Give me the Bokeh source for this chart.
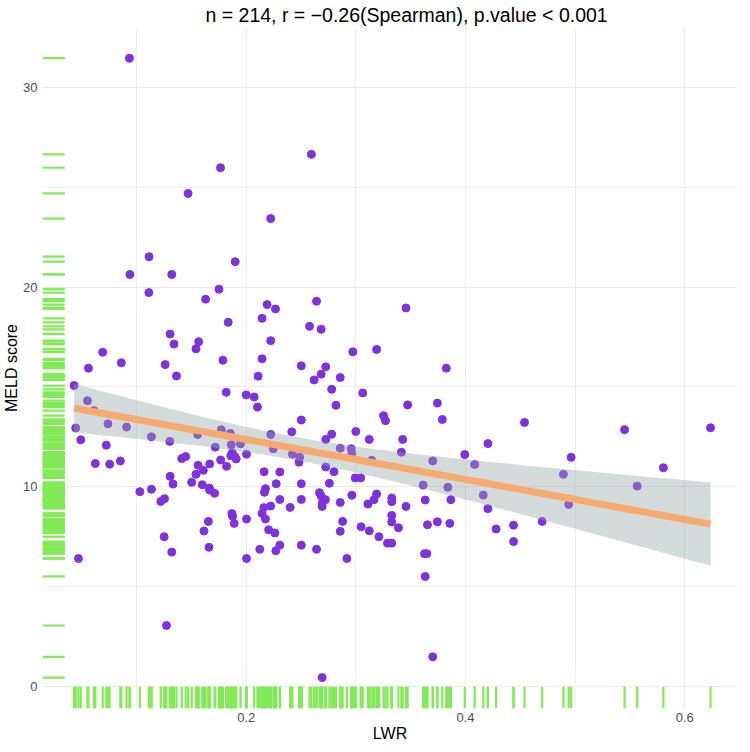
import numpy as np
from bokeh.plotting import figure
from bokeh.models import FixedTicker, Range1d, ColumnDataSource
from bokeh.embed import file_html
from bokeh.resources import INLINE

# ---- data (LWR, MELD score) ----
lwr = [
    0.0935, 0.2595, 0.1766, 0.1470, 0.2224, 0.1114, 0.1900,
    0.0939, 0.1321, 0.1112, 0.1752, 0.1630, 0.2191, 0.2267, 0.2145, 0.1836, 0.1306,
    0.1342, 0.1567, 0.1542, 0.2224, 0.0691, 0.0861, 0.0561, 0.1261, 0.1364, 0.1788,
    0.2145, 0.2109, 0.0430, 0.1818, 0.2000, 0.2073, 0.2103, 0.0552, 0.0612, 0.0445,
    0.0739, 0.0909, 0.0491, 0.0724, 0.1136, 0.1303, 0.0624, 0.0755, 0.0852, 0.1306,
    0.1412, 0.1448, 0.1561, 0.1609, 0.1667, 0.1542, 0.1767, 0.1821, 0.1718, 0.1773,
    0.1855, 0.1864, 0.1948, 0.1873, 0.1897, 0.1909, 0.1860, 0.2003, 0.1558, 0.2224,
    0.2248, 0.2164,
    0.2642, 0.2578, 0.2684, 0.3458, 0.2973, 0.3190, 0.3825, 0.2503, 0.2726, 0.2684,
    0.2620, 0.2858, 0.2780, 0.3063, 0.2819, 0.3473, 0.3744, 0.3789, 0.3253, 0.3271,
    0.2503, 0.2416, 0.2780, 0.2726, 0.3000, 0.3123, 0.3428, 0.3416, 0.2858, 0.2958,
    0.2964, 0.4205, 0.3994, 0.3702, 0.4084, 0.2422, 0.2488, 0.2482, 0.2726, 0.2801,
    0.2307, 0.3145, 0.2994, 0.3045,
    0.1333, 0.1503, 0.1030, 0.1136, 0.1221, 0.1255, 0.1600, 0.1664, 0.1667, 0.1712,
    0.2176, 0.2167, 0.2161, 0.2145, 0.2176, 0.1870, 0.1876, 0.1891, 0.2003, 0.1655,
    0.1615, 0.1252, 0.1321, 0.1661, 0.0470, 0.2003, 0.2124, 0.1273,
    0.2274, 0.2503, 0.2759, 0.2223, 0.2307, 0.2503, 0.2401, 0.2669, 0.2684, 0.2723,
    0.2693, 0.2693, 0.2858, 0.2964, 0.3190, 0.3166, 0.3111, 0.3328, 0.3328, 0.3458,
    0.3614, 0.3840, 0.3633, 0.3867, 0.4163, 0.4205, 0.4280, 0.2880, 0.2858, 0.3048,
    0.3123, 0.3211, 0.3289, 0.3328, 0.3328, 0.3328, 0.3389, 0.3654, 0.3744, 0.3858,
    0.3627, 0.3648, 0.3633, 0.3702, 0.2693, 0.2205, 0.2262, 0.2307, 0.2271, 0.2503,
    0.2642, 0.2919,
    0.4539, 0.5452, 0.6236, 0.4964, 0.4894, 0.5806, 0.5567, 0.4942, 0.4700, 0.4439,
    0.4439,
]
meld = [
    31.48, 26.66, 25.99, 24.70, 23.44, 21.53, 21.28,
    20.64, 20.64, 19.73, 19.90, 19.40, 19.13, 18.91, 18.44, 18.24, 17.65,
    17.15, 17.27, 16.91, 17.32, 16.74, 16.21, 15.94, 16.12, 15.55, 16.34,
    16.41, 15.54, 15.07, 14.73, 14.60, 14.50, 13.99, 14.31, 13.81, 12.94,
    13.15, 12.99, 12.35, 12.08, 12.50, 12.27, 11.16, 11.13, 11.29, 10.52,
    11.41, 11.51, 11.07, 10.82, 11.14, 10.62, 11.34, 11.02, 11.98, 12.85,
    12.67, 12.10, 12.15, 11.69, 11.51, 11.39, 11.55, 11.63, 12.62, 12.62,
    11.90, 10.75,
    19.30, 18.04, 17.89, 18.96, 16.76, 16.88, 15.94, 16.06, 16.01, 15.64,
    15.35, 15.47, 14.88, 14.70, 14.08, 14.10, 14.19, 13.37, 13.56, 13.31,
    13.34, 12.75, 12.63, 12.37, 12.77, 12.37, 12.37, 11.73, 11.93, 11.90,
    11.66, 12.16, 11.61, 11.29, 11.11, 11.63, 11.48, 11.23, 10.99, 10.75,
    10.74, 11.32, 10.44, 10.44,
    10.13, 10.22, 9.75, 9.87, 9.26, 9.40, 10.10, 9.93, 9.83, 9.67,
    9.90, 9.72, 8.95, 8.66, 8.38, 8.65, 8.52, 8.16, 8.38, 8.26,
    7.78, 7.49, 6.72, 6.96, 6.40, 6.40, 6.86, 3.04,
    10.15, 10.15, 10.17, 9.03, 9.36, 9.36, 8.96, 9.70, 9.53, 9.35,
    9.01, 9.16, 9.21, 9.57, 9.63, 9.35, 9.13, 9.43, 9.25, 9.01,
    10.08, 9.97, 9.33, 9.35, 9.58, 8.90, 7.88, 8.26, 7.76, 7.99,
    7.79, 7.49, 7.17, 7.17, 8.56, 8.23, 7.94, 8.09, 8.24, 8.16,
    6.64, 6.64, 5.50, 1.47, 0.43, 7.84, 7.68, 7.07, 6.79, 7.07,
    6.86, 6.40,
    13.22, 12.86, 12.95, 11.47, 10.62, 10.95, 10.03, 9.11, 8.26, 8.07,
    7.25,
]
x_ticks = [0.2, 0.4, 0.6]
x_minor = [0.1, 0.3, 0.5]
y_ticks = [0, 10, 20, 30]
y_minor = [5, 15, 25]
title_text = "n = 214, r = \u22120.26(Spearman), p.value < 0.001"
x_title = "LWR"
y_title = "MELD score"

x = np.array(lwr)
y = np.array(meld)

# linear fit with 95% confidence band (as geom_smooth(method = "lm"))
n = len(x)
b1, b0 = np.polyfit(x, y, 1)
resid = y - (b0 + b1 * x)
s = np.sqrt(np.sum(resid ** 2) / (n - 2))
xbar = x.mean()
sxx = np.sum((x - xbar) ** 2)
xs = np.linspace(x.min(), x.max(), 80)
fit = b0 + b1 * xs
se = s * np.sqrt(1.0 / n + (xs - xbar) ** 2 / sxx)
tq = 1.971
lo = fit - tq * se
hi = fit + tq * se

x0, x1 = 0.0142, 0.6482
y0, y1 = -1.12, 33.02

FONT = "Liberation Sans"

p = figure(width=738, height=744, output_backend="svg", toolbar_location=None,
           x_range=Range1d(x0, x1), y_range=Range1d(y0, y1),
           min_border_left=0, min_border_right=1, min_border_top=0, min_border_bottom=0)
p.outline_line_color = None
p.background_fill_color = "white"
p.border_fill_color = "white"

p.title.text = title_text
p.title.text_font = FONT
p.title.text_font_size = "19.5px"
p.title.text_font_style = "normal"
p.title.text_color = "#000000"
p.title.align = "left"
p.title.offset = 163
p.title.standoff = 3

p.xaxis.ticker = FixedTicker(ticks=x_ticks, minor_ticks=x_minor)
p.yaxis.ticker = FixedTicker(ticks=y_ticks, minor_ticks=y_minor)
for ax in (p.xaxis[0], p.yaxis[0]):
    ax.axis_line_color = None
    ax.major_tick_line_color = None
    ax.minor_tick_line_color = None
    ax.major_tick_out = 0
    ax.major_tick_in = 0
    ax.minor_tick_out = 0
    ax.minor_tick_in = 0
    ax.major_label_text_font = FONT
    ax.major_label_text_font_size = "13px"
    ax.major_label_text_color = "#4D4D4D"
    ax.axis_label_text_font = FONT
    ax.axis_label_text_font_size = "16px"
    ax.axis_label_text_font_style = "normal"
    ax.axis_label_text_color = "#000000"
p.xaxis.axis_label = x_title
p.yaxis.axis_label = y_title
p.xaxis.major_label_standoff = 4
p.yaxis.major_label_standoff = 5
p.xaxis.axis_label_standoff = 0
p.yaxis.axis_label_standoff = 0

for g in (p.xgrid[0], p.ygrid[0]):
    g.grid_line_color = "#EBEBEB"
    g.grid_line_width = 1.1
    g.minor_grid_line_color = "#EFEFEF"
    g.minor_grid_line_width = 1.0

# points
src = ColumnDataSource(dict(x=x, y=y))
p.scatter("x", "y", source=src, size=8, fill_color="#7E31DD", line_color="#7E31DD")

# rugs (marginal data)
ry_len = 0.032 * (y1 - y0)
rx_len = 0.032 * (x1 - x0)
p.segment(x0=x, y0=np.full(n, y0), x1=x, y1=np.full(n, y0 + ry_len),
          line_color="#82EA56", line_width=2.2)
p.segment(x0=np.full(n, x0), y0=y, x1=np.full(n, x0 + rx_len), y1=y,
          line_color="#82EA56", line_width=2.2)

# confidence band and fitted line
p.varea(x=xs, y1=lo, y2=hi, fill_color="#94A8A6", fill_alpha=0.4)
p.line(xs, fit, line_color="#F7AA70", line_width=7)

open("out.html", "w").write(file_html(p, INLINE))
